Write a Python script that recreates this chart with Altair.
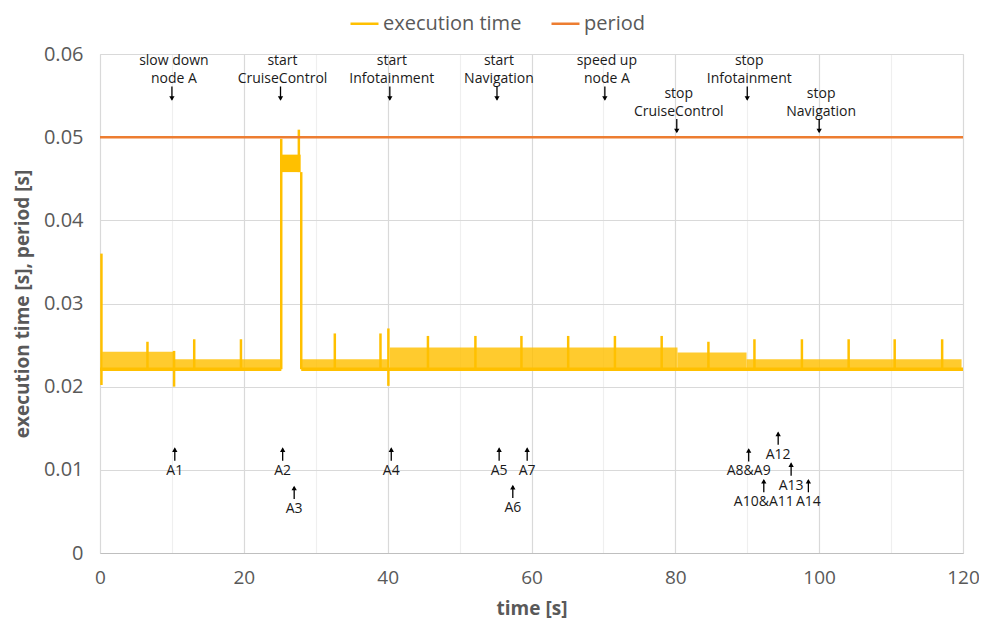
import altair as alt
import pandas as pd

# ---------------- data ----------------
period_t = [0, 120]
period_v = [0.05, 0.05]

# base level of execution time (continuous thick line, interrupted at 25-28 s)
base_start = [0, 27.98]
base_end = [25.2, 120]
base_v = [0.0221, 0.0221]

# dense oscillation bands of the execution time (start, end, top level)
seg_start = [0.3, 10.2, 28.0, 40.3, 80.3, 89.9]
seg_end = [10.2, 25.1, 40.1, 80.3, 89.9, 119.8]
seg_low = [0.0221, 0.0221, 0.0221, 0.0221, 0.0221, 0.0221]
seg_high = [0.0242, 0.0233, 0.0233, 0.0247, 0.0241, 0.0233]

# saturated block while CruiseControl starts
block_start = [25.3]
block_end = [27.9]
block_low = [0.0458]
block_high = [0.0479]

# single spikes / jumps
spike_t = [0.2, 6.6, 10.3, 13.1, 19.6, 25.2, 27.65, 27.98, 32.65, 39.0, 40.1,
           45.6, 52.2, 58.6, 65.1, 71.6, 78.1, 84.6, 91.0, 97.6, 104.1, 110.5, 117.1]
spike_lo = [0.0202, 0.0221, 0.0200, 0.0221, 0.0221, 0.0221, 0.0458, 0.0221, 0.0221, 0.0221, 0.0201,
            0.0221, 0.0221, 0.0221, 0.0221, 0.0221, 0.0221, 0.0221, 0.0221, 0.0221, 0.0221, 0.0221, 0.0221]
spike_hi = [0.0360, 0.0254, 0.0243, 0.0257, 0.0257, 0.0498, 0.0509, 0.0458, 0.0264, 0.0264, 0.0270,
            0.0261, 0.0261, 0.0261, 0.0261, 0.0261, 0.0261, 0.0254, 0.0257, 0.0257, 0.0257, 0.0257, 0.0257]

# event annotations (top)
top_t = [10.0, 25.1, 40.3, 55.2, 70.2, 80.2, 90.0, 100.0]
top_line1 = ["slow down", "start", "start", "start", "speed up", "stop", "stop", "stop"]
top_line2 = ["node A", "CruiseControl", "Infotainment", "Navigation", "node A",
             "CruiseControl", "Infotainment", "Navigation"]
top_level = [0.0591, 0.0591, 0.0591, 0.0591, 0.0591, 0.0552, 0.0591, 0.0552]

# A-labels (bottom)
bot_t = [10.4, 25.4, 27.0, 40.5, 55.5, 57.4, 59.4, 90.2, 92.3, 94.3, 96.1, 98.5]
bot_label = ["A1", "A2", "A3", "A4", "A5", "A6", "A7", "A8&A9", "A10&A11", "A12", "A13", "A14"]
bot_level = [0.0099, 0.0099, 0.0053, 0.0099, 0.0099, 0.0054, 0.0099, 0.0098, 0.0061, 0.0118, 0.0081, 0.0061]

# ---------------- layout ----------------
W, H = 863, 499
YMAX = 0.06
PX = H / YMAX  # pixels per unit
FONT = "Open Sans"
GREY = "#595959"
YELLOW = "#FFC000"
ORANGE = "#ED7D31"

xs = alt.Scale(domain=[0, 120], nice=False, zero=False)
ys = alt.Scale(domain=[0, YMAX], nice=False)
cs = alt.Scale(domain=["execution time", "period"], range=[YELLOW, ORANGE])

x_axis = alt.Axis(
    values=list(range(0, 121, 5)),
    labelExpr="datum.value % 20 === 0 ? datum.label : ''",
    format="d", labelFlush=False,
    gridColor={"condition": {"test": "datum.value % 20 === 0", "value": "#D9D9D9"}, "value": "#EFEFEF"},
    gridWidth=1.2,
    domainColor="#BFBFBF", domainWidth=1.2,
    ticks=False, labelPadding=15, labelFontSize=19, labelColor=GREY, labelFont=FONT,
    title="time [s]", titleFontSize=19, titleFontWeight="bold", titleColor=GREY, titleFont=FONT,
    titleX=W / 2, titleY=55, titleBaseline="middle", titleAlign="center",
)
y_axis = alt.Axis(
    values=[0, 0.01, 0.02, 0.03, 0.04, 0.05, 0.06],
    format=".2~f",
    gridColor="#D9D9D9", gridWidth=1.2,
    domain=False, ticks=False, labelPadding=17, labelFontSize=20, labelColor=GREY, labelFont=FONT,
    title="execution time [s], period [s]", titleFontSize=19, titleFontWeight="bold",
    titleColor=GREY, titleFont=FONT,
    titleX=-78, titleY=H / 2, titleAngle=-90, titleBaseline="middle", titleAlign="center",
)

legend = alt.Legend(
    orient="none", legendX=249, legendY=-46, direction="horizontal", title=None,
    symbolType="stroke", symbolSize=784, symbolStrokeWidth=2.5, labelFontSize=20,
    labelFont=FONT, labelColor=GREY, labelOffset=3, columnPadding=24, padding=0,
)

# data frames
seg_df = pd.DataFrame({"s": seg_start, "e": seg_end, "lo": seg_low, "hi": seg_high})
block_df = pd.DataFrame({"s": block_start, "e": block_end, "lo": block_low, "hi": block_high})
spike_df = pd.DataFrame({"t": spike_t, "lo": spike_lo, "hi": spike_hi})
base_df = pd.DataFrame({"s": base_start, "e": base_end, "v": base_v})
period_df = pd.concat([
    pd.DataFrame({"t": [base_start[0], base_end[0]], "v": base_v, "series": "execution time"}),
    pd.DataFrame({"t": period_t, "v": period_v, "series": "period"}),
])

top_df = pd.DataFrame({"t": top_t, "l1": top_line1, "l2": top_line2, "lv": top_level})
top_df["a_from"] = top_df["lv"] - 25 / PX
top_df["a_to"] = top_df["lv"] - 38 / PX
top_df["head"] = top_df["lv"] - 37 / PX

bot_df = pd.DataFrame({"t": bot_t, "lab": bot_label, "lv": bot_level})
bot_df["a_from"] = bot_df["lv"] + 10 / PX
bot_df["a_to"] = bot_df["lv"] + 22 / PX
bot_df["head"] = bot_df["lv"] + 21 / PX

# ---------------- layers ----------------
bands = alt.Chart(seg_df).mark_rect(color=YELLOW, opacity=0.82).encode(
    x=alt.X("s:Q", scale=xs, axis=x_axis),
    x2="e:Q",
    y=alt.Y("lo:Q", scale=ys, axis=y_axis),
    y2="hi:Q",
)
block = alt.Chart(block_df).mark_rect(color=YELLOW).encode(
    x=alt.X("s:Q", scale=xs), x2="e:Q", y=alt.Y("lo:Q", scale=ys), y2="hi:Q"
)
base = alt.Chart(base_df).mark_rule(color=YELLOW, strokeWidth=3.5).encode(
    x=alt.X("s:Q", scale=xs), x2="e:Q", y=alt.Y("v:Q", scale=ys)
)
spikes = alt.Chart(spike_df).mark_rule(color=YELLOW, strokeWidth=2.5).encode(
    x=alt.X("t:Q", scale=xs),
    y=alt.Y("lo:Q", scale=ys),
    y2="hi:Q",
)
lines = alt.Chart(period_df).mark_line(strokeWidth=2.5).encode(
    x=alt.X("t:Q", scale=xs),
    y=alt.Y("v:Q", scale=ys),
    color=alt.Color("series:N", scale=cs, legend=legend),
    detail="series:N",
)

txt = dict(font=FONT, fontSize=14, color="#1a1a1a", align="center", baseline="middle")
top1 = alt.Chart(top_df).mark_text(dx=2, **txt).encode(
    x=alt.X("t:Q", scale=xs), y=alt.Y("lv:Q", scale=ys), text="l1:N")
top2 = alt.Chart(top_df).mark_text(dx=2, dy=17.6, **txt).encode(
    x=alt.X("t:Q", scale=xs), y=alt.Y("lv:Q", scale=ys), text="l2:N")
top_arrow = alt.Chart(top_df).mark_rule(color="#000000", strokeWidth=1.3).encode(
    x=alt.X("t:Q", scale=xs), y=alt.Y("a_from:Q", scale=ys), y2="a_to:Q")
top_head = alt.Chart(top_df).mark_point(shape="triangle-down", filled=True, size=28,
                                        color="#000000", opacity=1).encode(
    x=alt.X("t:Q", scale=xs), y=alt.Y("head:Q", scale=ys))

bot_text = alt.Chart(bot_df).mark_text(**txt).encode(
    x=alt.X("t:Q", scale=xs), y=alt.Y("lv:Q", scale=ys), text="lab:N")
bot_arrow = alt.Chart(bot_df).mark_rule(color="#000000", strokeWidth=1.3).encode(
    x=alt.X("t:Q", scale=xs), y=alt.Y("a_from:Q", scale=ys), y2="a_to:Q")
bot_head = alt.Chart(bot_df).mark_point(shape="triangle-up", filled=True, size=28,
                                        color="#000000", opacity=1).encode(
    x=alt.X("t:Q", scale=xs), y=alt.Y("head:Q", scale=ys))

chart = alt.layer(
    bands, block, base, spikes, lines, top1, top2, top_arrow, top_head, bot_text, bot_arrow, bot_head
).properties(
    width=W, height=H,
    padding={"left": 92, "top": 46, "right": 16, "bottom": 66},
    autosize=alt.AutoSizeParams(type="none"),
).configure_view(stroke=None).configure(font=FONT)

chart.save("out.html", embed_options={"renderer": "svg", "actions": False})
